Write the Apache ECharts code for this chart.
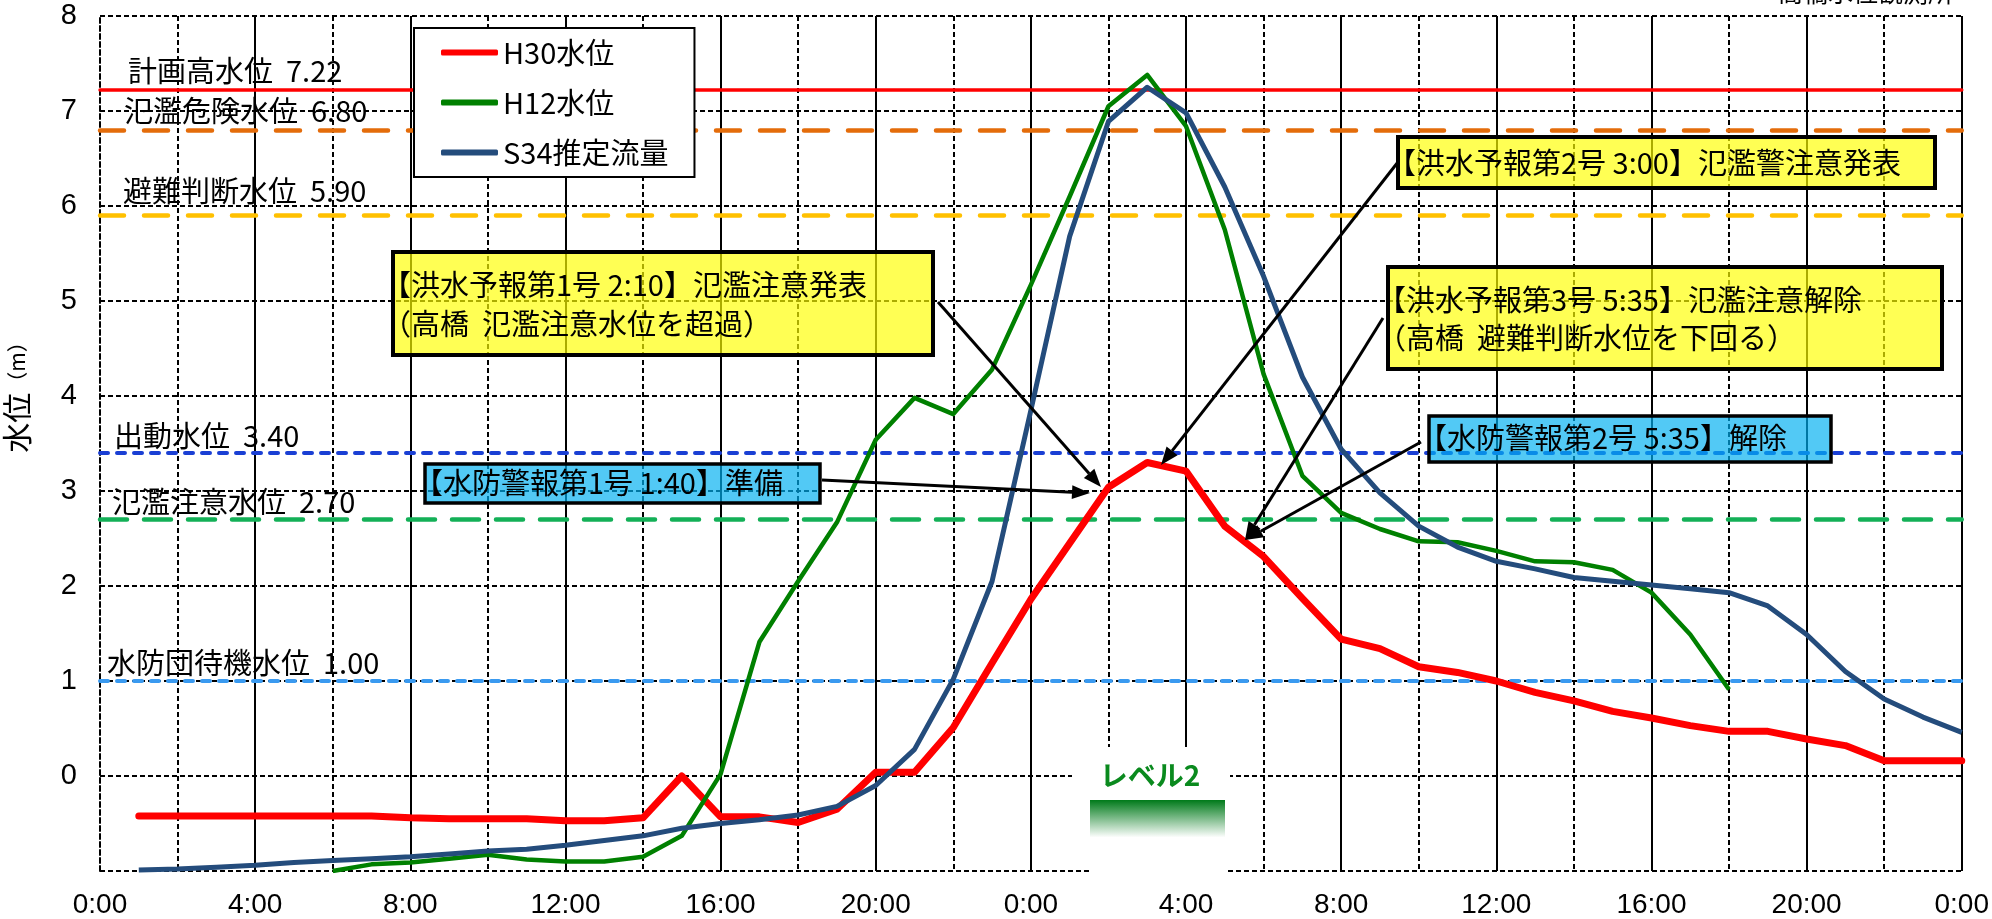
<!DOCTYPE html>
<html>
<head>
<meta charset="utf-8">
<title>高橋水位観測所 水位</title>
<script src="https://cdn.jsdelivr.net/npm/echarts@6/dist/echarts.min.js"></script>
<style>
  html, body { margin: 0; padding: 0; background: #fff; }
  #chart { width: 1992px; height: 919px; }
</style>
</head>
<body>
<div id="chart"></div>
<script>
// 経過時間（0:00起点、1時間毎）
var hours = [1, 2, 3, 4, 5, 6, 7, 8, 9, 10, 11, 12, 13, 14, 15, 16, 17, 18, 19, 20, 21, 22, 23, 24,
             25, 26, 27, 28, 29, 30, 31, 32, 33, 34, 35, 36, 37, 38, 39, 40, 41, 42, 43, 44, 45, 46, 47, 48];
var xLabels = ['0:00', '4:00', '8:00', '12:00', '16:00', '20:00', '0:00', '4:00', '8:00', '12:00', '16:00', '20:00', '0:00'];

// 水位(m)
var h30 = [-0.42, -0.42, -0.42, -0.42, -0.42, -0.42, -0.42, -0.44, -0.45, -0.45, -0.45, -0.47, -0.47, -0.44,
           0.00, -0.43, -0.43, -0.49, -0.35, 0.04, 0.04, 0.51, 1.19, 1.86, 2.45, 3.04, 3.30, 3.21,
           2.63, 2.31, 1.87, 1.44, 1.34, 1.15, 1.09, 1.00, 0.88, 0.79, 0.68, 0.61, 0.53, 0.47,
           0.47, 0.39, 0.32, 0.16, 0.16, 0.16];
var h12 = [null, null, null, null, null, -1.00, -0.93, -0.91, -0.87, -0.83, -0.88, -0.90, -0.90, -0.85,
           -0.63, 0.02, 1.41, 2.05, 2.67, 3.54, 3.98, 3.81, 4.28, 5.17, 6.10, 7.05, 7.38, 6.84,
           5.75, 4.23, 3.16, 2.77, 2.60, 2.47, 2.46, 2.37, 2.26, 2.25, 2.17, 1.93, 1.49, 0.91,
           null, null, null, null, null, null];
var s34 = [-0.99, -0.98, -0.96, -0.94, -0.91, -0.89, -0.87, -0.85, -0.82, -0.79, -0.77, -0.73, -0.68, -0.63,
           -0.55, -0.50, -0.46, -0.41, -0.32, -0.10, 0.28, 1.02, 2.05, 3.85, 5.68, 6.89, 7.25, 6.98,
           6.20, 5.26, 4.20, 3.44, 2.98, 2.63, 2.41, 2.26, 2.18, 2.09, 2.05, 2.01, 1.97, 1.93,
           1.79, 1.49, 1.10, 0.81, 0.62, 0.46];

// 基準水位
var levelNames = ['計画高水位', '氾濫危険水位', '避難判断水位', '出動水位', '氾濫注意水位', '水防団待機水位'];
var levelValues = [7.22, 6.80, 5.90, 3.40, 2.70, 1.00];
var levelTexts = ['7.22', '6.80', '5.90', '3.40', '2.70', '1.00'];

var FONT_JP = '"Liberation Sans Narrow", "Noto Sans CJK JP", sans-serif';
var FONT_NUM = '"Liberation Sans Narrow", "Liberation Sans", sans-serif';
var YELLOW = 'rgba(255,255,0,0.67)';
var BLUE = 'rgba(0,176,240,0.68)';

var levelLook = [
  { color: '#ff0000', type: 'solid', width: 3.5, dist: [28, 5] },
  { color: '#e46c0a', type: [24, 20], width: 4.5, dist: [24, 5] },
  { color: '#ffc000', type: [24, 20], width: 4.5, dist: [23, 10] },
  { color: '#1a3fd4', type: [8, 9], width: 4, dist: [14, 3] },
  { color: '#13b057', type: [27, 17], width: 4.5, dist: [12, 3] },
  { color: '#3a9af0', type: [8, 9], width: 4, dist: [7, 4] }
];

function pairs(ys) {
  return hours.map(function (h, i) { return [h, ys[i]]; });
}

function arrow(x1, y1, x2, y2) {
  var ang = Math.atan2(y2 - y1, x2 - x1);
  var len = 18, half = 7;
  var bx = x2 - len * Math.cos(ang), by = y2 - len * Math.sin(ang);
  var nx = -Math.sin(ang) * half, ny = Math.cos(ang) * half;
  return [
    { type: 'line', z: 100, shape: { x1: x1, y1: y1, x2: bx, y2: by }, style: { stroke: '#000', lineWidth: 3 } },
    { type: 'polygon', z: 100, shape: { points: [[x2, y2], [bx + nx, by + ny], [bx - nx, by - ny]] }, style: { fill: '#000' } }
  ];
}

// 吹き出し
var notes = [
  { x: 393, y: 252, w: 540, h: 103, fill: YELLOW, bw: 4, lines: ['【洪水予報第1号 2:10】氾濫注意発表', '（高橋  氾濫注意水位を超過）'], ty: [285, 324] },
  { x: 1398, y: 137, w: 537, h: 51, fill: YELLOW, bw: 4, lines: ['【洪水予報第2号 3:00】氾濫警注意発表'], ty: [163] },
  { x: 1388, y: 267, w: 554, h: 102, fill: YELLOW, bw: 4, lines: ['【洪水予報第3号 5:35】氾濫注意解除', '（高橋  避難判断水位を下回る）'], ty: [300, 338] },
  { x: 425, y: 464, w: 395, h: 39, fill: BLUE, bw: 3.5, lines: ['【水防警報第1号 1:40】準備'], ty: [483] },
  { x: 1429, y: 416, w: 402, h: 46, fill: BLUE, bw: 3.5, lines: ['【水防警報第2号 5:35】解除'], ty: [438] }
];

var graphics = [];
graphics.push({
  type: 'text', x: 17, y: 392, rotation: Math.PI / 2, z: 100,
  style: {
    text: '{a|水位}{b|（m）}', align: 'center', verticalAlign: 'middle', fill: '#000',
    rich: { a: { fontSize: 30, fontFamily: FONT_JP }, b: { fontSize: 21, fontFamily: FONT_JP } }
  }
});
graphics.push({
  type: 'text', x: 1953, y: 5, z: 100,
  style: { text: '高橋水位観測所', align: 'right', verticalAlign: 'bottom', fill: '#000', font: '25px ' + FONT_JP }
});

notes.forEach(function (n) {
  graphics.push({
    type: 'rect', z: 100,
    shape: { x: n.x, y: n.y, width: n.w, height: n.h },
    style: { fill: n.fill, stroke: '#000', lineWidth: n.bw }
  });
  n.lines.forEach(function (t, i) {
    graphics.push({
      type: 'text', x: n.x - 11, y: n.ty[i], z: 101,
      style: { text: t, align: 'left', verticalAlign: 'middle', fill: '#000', font: '29px ' + FONT_JP }
    });
  });
});

graphics = graphics.concat(
  arrow(938, 302, 1101, 487),
  arrow(822, 480, 1090, 493),
  arrow(1398, 162, 1161, 465),
  arrow(1383, 318, 1245, 540),
  arrow(1421, 442, 1245, 540)
);

// レベル2
graphics.push({ type: 'rect', z: 100, shape: { x: 1072, y: 747, width: 158, height: 53 }, style: { fill: '#fff' } });
graphics.push({
  type: 'rect', z: 100, shape: { x: 1090, y: 800, width: 135, height: 75 },
  style: {
    fill: new echarts.graphic.LinearGradient(0, 0, 0, 1, [
      { offset: 0, color: '#007a1a' }, { offset: 0.5, color: '#ffffff' }, { offset: 1, color: '#ffffff' }
    ])
  }
});
graphics.push({
  type: 'text', x: 1150, y: 775, z: 101,
  style: { text: 'レベル2', align: 'center', verticalAlign: 'middle', fill: '#0a8a1e', font: 'bold 28px ' + FONT_JP }
});

var chart = echarts.init(document.getElementById('chart'));
chart.setOption({
  animation: false,
  backgroundColor: '#fff',
  grid: { left: 100, right: 27, top: 16, bottom: 47 },
  legend: {
    data: [
      { name: 'H30水位', icon: 'roundRect' },
      { name: 'H12水位', icon: 'roundRect' },
      { name: 'S34推定流量', icon: 'roundRect' }
    ],
    orient: 'vertical',
    left: 414,
    top: 28,
    padding: [10, 26, 10, 27],
    itemWidth: 57,
    itemHeight: 6,
    itemGap: 21,
    backgroundColor: '#fff',
    borderColor: '#000',
    borderWidth: 2,
    selectedMode: false,
    textStyle: { fontSize: 29, fontFamily: FONT_JP, color: '#000' }
  },
  xAxis: {
    type: 'value',
    min: 0,
    max: 48,
    interval: 4,
    axisLine: { show: false },
    axisTick: { show: false },
    axisLabel: {
      margin: 20, fontSize: 28, fontFamily: FONT_NUM, color: '#000',
      formatter: function (v) { return xLabels[v / 4]; }
    },
    splitLine: { show: true, showMinLine: false, lineStyle: { color: '#000', width: 2 } },
    minorTick: { show: false, splitNumber: 2 },
    minorSplitLine: { show: true, lineStyle: { color: '#000', width: 2, type: [5, 3] } }
  },
  yAxis: {
    type: 'value',
    min: -1,
    max: 8,
    interval: 1,
    axisLine: { show: true, lineStyle: { color: '#000', width: 2, type: [5, 3] } },
    axisTick: { show: false },
    axisLabel: { margin: 23, fontSize: 29, fontFamily: FONT_NUM, color: '#000', showMinLabel: false },
    splitLine: { show: true, lineStyle: { color: '#000', width: 2, type: [5, 3] } }
  },
  graphic: graphics,
  series: [
    {
      name: 'levels',
      type: 'line',
      data: [],
      silent: true,
      markLine: {
        silent: true,
        z: 1,
        symbol: ['none', 'none'],
        data: levelValues.map(function (v, i) {
          var look = levelLook[i];
          return {
            yAxis: v,
            lineStyle: { color: look.color, type: look.type, width: look.width, cap: 'round' },
            label: {
              show: true, position: 'insideStartTop', distance: look.dist,
              formatter: levelNames[i] + '  ' + levelTexts[i],
              color: '#000', fontSize: 29, fontFamily: FONT_JP
            }
          };
        })
      }
    },
    {
      name: 'H30水位', type: 'line', z: 3, data: pairs(h30), symbol: 'none', silent: true,
      lineStyle: { color: '#ff0000', width: 7, join: 'round', cap: 'round' },
      itemStyle: { color: '#ff0000' }
    },
    {
      name: 'H12水位', type: 'line', z: 3, data: pairs(h12), symbol: 'none', silent: true,
      lineStyle: { color: '#008000', width: 4.5, join: 'round' },
      itemStyle: { color: '#008000' }
    },
    {
      name: 'S34推定流量', type: 'line', z: 3, data: pairs(s34), symbol: 'none', silent: true,
      lineStyle: { color: '#244c7c', width: 5, join: 'round' },
      itemStyle: { color: '#244c7c' }
    }
  ]
});
</script>
</body>
</html>
